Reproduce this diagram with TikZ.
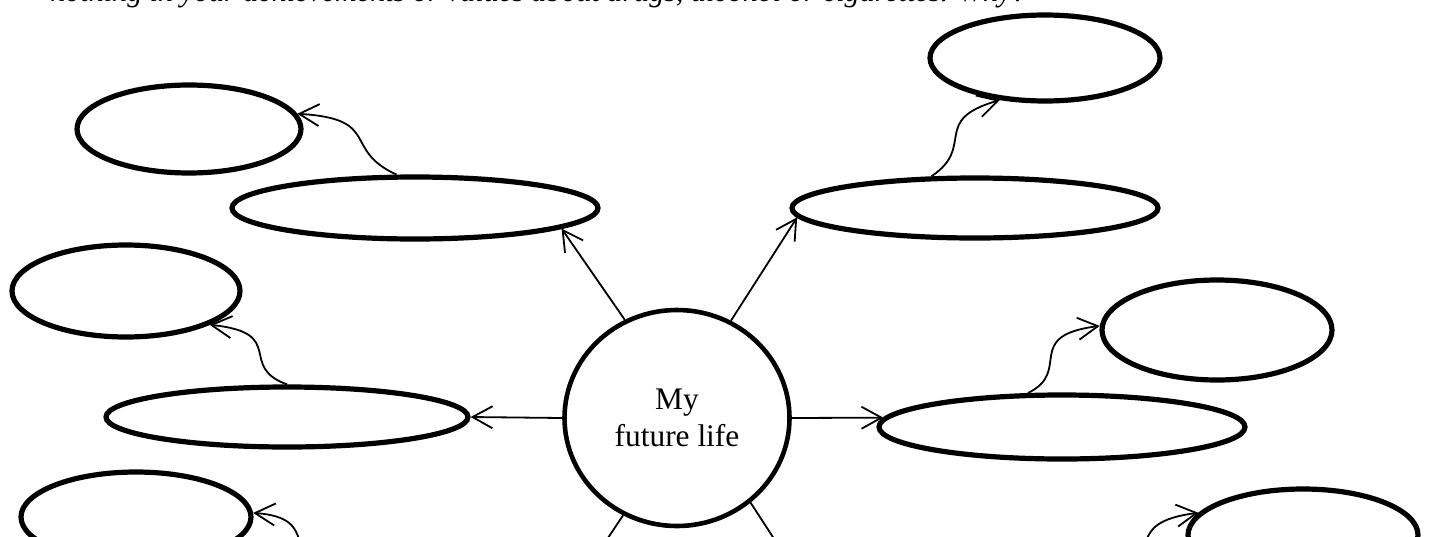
\documentclass[tikz,border=0pt]{standalone}
\usepackage{fontspec}
\usepackage{graphicx}
\setmainfont{Liberation Serif}
\usetikzlibrary{shapes.geometric,arrows.meta}
\begin{document}
\begin{tikzpicture}[x=0.5pt,y=-0.5pt,
  bub/.style={draw,ellipse,line width=2.6pt,inner sep=0pt},
  hub/.style={draw,ellipse,line width=2.3pt,inner sep=0pt,minimum width=112.5pt,minimum height=108pt,align=center,font=\fontsize{15.7}{18.5}\selectfont},
  conn/.style={line width=0.9pt,-{Straight Barb[length=10pt,width=11pt]}},
  link/.style={line width=0.9pt}]
\useasboundingbox (0,0) rectangle (1429,536);
\clip (0,0) rectangle (1429,536);
\node[anchor=base west,inner sep=0pt] (head) at (50,1) {\resizebox{488pt}{!}{\itshape nothing in your achievements or values about drugs, alcohol or cigarettes. Why?}};
% hub
\node[hub] (C) at (677,418) {My\\future life};
% bubbles
\node[bub,minimum width=112pt,minimum height=44pt] (L1) at (189,129) {};
\node[bub,minimum width=183pt,minimum height=31pt] (L2) at (415,208) {};
\node[bub,minimum width=115pt,minimum height=43pt] (R1) at (1045,58) {};
\node[bub,minimum width=183pt,minimum height=30pt] (R2) at (975,208) {};
\node[bub,minimum width=114pt,minimum height=46pt] (L4) at (126,291) {};
\node[bub,minimum width=181pt,minimum height=30pt] (L3) at (287,417) {};
\node[bub,minimum width=115pt,minimum height=50pt] (R4) at (1217,330) {};
\node[bub,minimum width=183pt,minimum height=32pt] (R3) at (1062,427) {};
\node[bub,minimum width=115pt,minimum height=45pt] (L5) at (136,517) {};
\node[bub,minimum width=115pt,minimum height=46pt] (R5) at (1303,535) {};
% straight connectors
\draw[conn] (C.118) -- (L2.352);
\draw[conn] (C.61) -- (R2.183);
\draw[conn] (C.180) -- (L3.0);
\draw[conn] (C.0) -- (R3.177);
\coordinate (dl) at (550,625);
\coordinate (dr) at (830,625);
\draw[link] (C.241) -- (dl);
\draw[link] (C.311) -- (dr);
% curved connectors
\draw[conn] (L2.119) .. controls +(-55,-25) and +(85,5) .. (L1.8);
\draw[conn] (R2.144) .. controls +(45,-30) and +(-70,20) .. (R1.223);
\draw[conn] (L3.90) .. controls +(-50,-18) and +(78,8) .. (L4.338);
\draw[conn] (R3.135) .. controls +(45,-22) and +(-78,10) .. (R4.178);
\coordinate (sbl) at (330,578);
\draw[conn] (sbl) .. controls +(-50,-18) and +(70,5) .. (L5.2);
\coordinate (sbr) at (1119,579);
\draw[conn] (sbr) .. controls +(45,-22) and +(-78,10) .. (R5.168);
\end{tikzpicture}
\end{document}
